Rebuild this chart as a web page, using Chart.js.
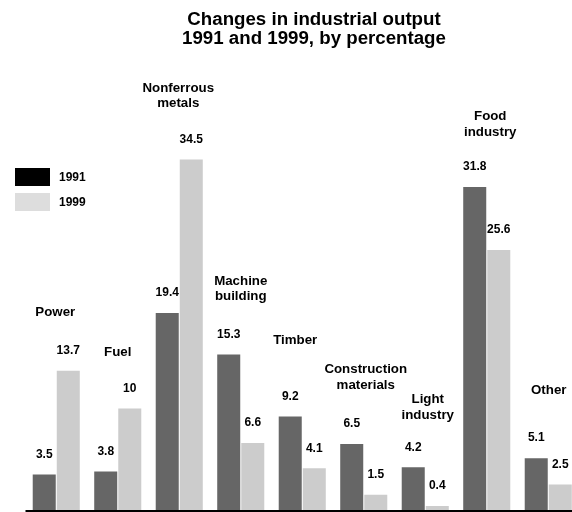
<!DOCTYPE html>
<html>
<head>
<meta charset="utf-8">
<script src="https://cdn.jsdelivr.net/npm/chart.js@4"></script>
<style>
  html, body { margin: 0; padding: 0; background: #fff; overflow: hidden; }
  #wrap { position: relative; width: 580px; height: 512px; }
</style>
</head>
<body>
<div id="wrap"><canvas id="outputChart"></canvas></div>
<script>
// --- Data ---
const categories = [
    ['Power'], ['Fuel'], ['Nonferrous', 'metals'], ['Machine', 'building'], ['Timber'],
    ['Construction', 'materials'], ['Light', 'industry'], ['Food', 'industry'], ['Other']
];
const series = ['1991', '1999'];
const values1991 = [3.5, 3.8, 19.4, 15.3, 9.2, 6.5, 4.2, 31.8, 5.1];
const values1999 = [13.7, 10, 34.5, 6.6, 4.1, 1.5, 0.4, 25.6, 2.5];
const titleLines = ['Changes in industrial output', '1991 and 1999, by percentage'];

// --- Look ---
const barColors = ['#666666', '#cccccc'];
const legendColors = ['#000000', '#dddddd'];
const FONT = '"Liberation Sans", Arial, Helvetica, sans-serif';
// how far each category label sits above its taller bar, and a small sideways nudge
const labelLift = [58, 56, 56, 58, 76, 59, 52, 55, 68];
const labelNudge = [-1, 0, -1, 0, -7, 2, 2.5, 3.5, 0.5];

const labelsPlugin = {
    id: 'labelsPlugin',
    afterDatasetsDraw(chart) {
        const ctx = chart.ctx;
        const area = chart.chartArea;
        const y = chart.scales.y;
        ctx.save();

        // baseline
        ctx.strokeStyle = '#000';
        ctx.lineWidth = 2;
        ctx.beginPath();
        ctx.moveTo(area.left, y.getPixelForValue(0) + 1);
        ctx.lineTo(chart.width, y.getPixelForValue(0) + 1);
        ctx.stroke();

        ctx.fillStyle = '#000';
        ctx.textAlign = 'center';
        ctx.textBaseline = 'middle';

        // title
        ctx.font = 'bold 18.7px ' + FONT;
        titleLines.forEach((t, i) => ctx.fillText(t, 314, 20 + i * 19));

        // value labels
        ctx.font = 'bold 12px ' + FONT;
        chart.data.datasets.forEach((ds, di) => {
            chart.getDatasetMeta(di).data.forEach((bar, i) => {
                ctx.fillText(String(ds.data[i]), bar.x, bar.y - 20);
            });
        });

        // category labels
        ctx.font = 'bold 13.3px ' + FONT;
        const m0 = chart.getDatasetMeta(0).data;
        const m1 = chart.getDatasetMeta(1).data;
        categories.forEach((lines, i) => {
            const cx = (m0[i].x + m1[i].x) / 2 + labelNudge[i];
            const top = Math.min(m0[i].y, m1[i].y);
            const last = top - labelLift[i];
            lines.forEach((line, k) => {
                ctx.fillText(line, cx, last - (lines.length - 1 - k) * 15.5);
            });
        });

        // legend
        ctx.font = 'bold 12px ' + FONT;
        ctx.textAlign = 'left';
        series.forEach((s, i) => {
            ctx.fillStyle = legendColors[i];
            ctx.fillRect(15, 168 + i * 25, 35, 18);
            ctx.fillStyle = '#000';
            ctx.fillText(s, 59, 177.5 + i * 25);
        });
        ctx.restore();
    }
};

const ctx = document.getElementById('outputChart').getContext('2d');
new Chart(ctx, {
    type: 'bar',
    data: {
        labels: categories.map(c => c.join(' ')),
        datasets: [
            { label: series[0], data: values1991, backgroundColor: barColors[0] },
            { label: series[1], data: values1999, backgroundColor: barColors[1] }
        ]
    },
    options: {
        responsive: true,
        maintainAspectRatio: false,
        animation: false,
        layout: { padding: { left: 25.5, right: 1, top: 2, bottom: 2 } },
        datasets: {
            bar: { categoryPercentage: 0.7816, barPercentage: 0.958 }
        },
        scales: {
            x: { display: false },
            y: { display: false, min: 0, max: 50 }
        },
        plugins: {
            legend: { display: false },
            title: { display: false },
            tooltip: { enabled: false }
        }
    },
    plugins: [labelsPlugin]
});
</script>
</body>
</html>
